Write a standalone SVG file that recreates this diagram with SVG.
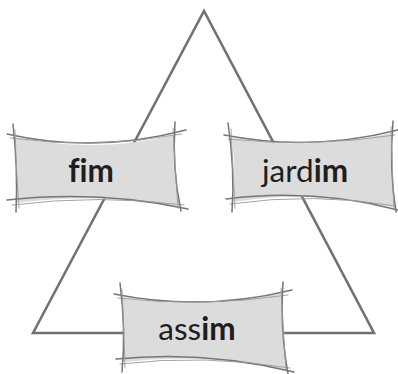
<svg xmlns="http://www.w3.org/2000/svg" width="398" height="374" viewBox="0 0 398 374">
  <style>
    .edge { fill: none; stroke: #727272; stroke-width: 2.6; stroke-linejoin: miter; }
    .banner { fill: #dcdcdc; stroke: none; }
    .sketch { fill: none; stroke: #767676; stroke-width: 1.5; stroke-linecap: round; }
    .sketch2 { fill: none; stroke: #9a9a9a; stroke-width: 0.9; stroke-linecap: round; }
    .label { font-family: "Lato", "Open Sans", "Liberation Sans", sans-serif; font-size: 31.5px; fill: #1e1e1e; text-anchor: middle; font-variant-ligatures: none; font-feature-settings: "liga" 0; }
    .b { font-weight: bold; }
  </style>

  <!-- triangle that joins the three words -->
  <g id="connectors">
    <path class="edge" d="M33,333 L204,11 L374,333 Z"/>
  </g>

  <!-- fim -->
  <g id="node-fim">
    <path class="banner" d="M15,137 Q95,154 174,135 Q172,170 180,206 Q100,192 16,203 Q19,170 15,137 Z"/>
    <path class="sketch" d="M7,134 Q95,154 186,130"/>
    <path class="sketch2" d="M10,138 Q95,150 182,134"/>
    <path class="sketch" d="M7,200 Q100,190 188,209"/>
    <path class="sketch2" d="M12,205 Q100,194 184,205"/>
    <path class="sketch" d="M13,124 Q18,170 16,212"/>
    <path class="sketch2" d="M15,130 Q16,170 19,208"/>
    <path class="sketch" d="M175,122 Q172,170 181,211"/>
    <path class="sketch2" d="M173,128 Q175,170 178,208"/>
    <text class="label" x="91" y="182"><tspan class="b">fim</tspan></text>
  </g>

  <!-- jardim -->
  <g id="node-jardim">
    <path class="banner" d="M232,138 Q312,151 392,133 Q390,170 396,208 Q314,189 233,202 Q236,170 232,138 Z"/>
    <path class="sketch" d="M224,135 Q312,152 398,130"/>
    <path class="sketch2" d="M228,139 Q312,148 395,135"/>
    <path class="sketch" d="M226,199 Q314,188 398,210"/>
    <path class="sketch2" d="M230,204 Q314,192 396,206"/>
    <path class="sketch" d="M228,123 Q235,170 232,212"/>
    <path class="sketch2" d="M231,129 Q233,170 235,208"/>
    <path class="sketch" d="M393,121 Q389,170 396,212"/>
    <path class="sketch2" d="M391,127 Q392,170 394,208"/>
    <text class="label" x="305" y="182">jard<tspan class="b">im</tspan></text>
  </g>

  <!-- assim -->
  <g id="node-assim">
    <path class="banner" d="M122,297 Q203,311 283,293 Q281,330 288,370 Q205,352 123,362 Q126,330 122,297 Z"/>
    <path class="sketch" d="M114,294 Q203,312 292,290"/>
    <path class="sketch2" d="M118,298 Q203,308 288,295"/>
    <path class="sketch" d="M116,359 Q205,350 294,372"/>
    <path class="sketch2" d="M120,364 Q205,354 290,368"/>
    <path class="sketch" d="M120,283 Q126,330 122,372"/>
    <path class="sketch2" d="M122,289 Q124,330 125,368"/>
    <path class="sketch" d="M283,282 Q280,330 288,374"/>
    <path class="sketch2" d="M281,288 Q283,330 286,370"/>
    <text class="label" x="197" y="340">ass<tspan class="b">im</tspan></text>
  </g>
</svg>
